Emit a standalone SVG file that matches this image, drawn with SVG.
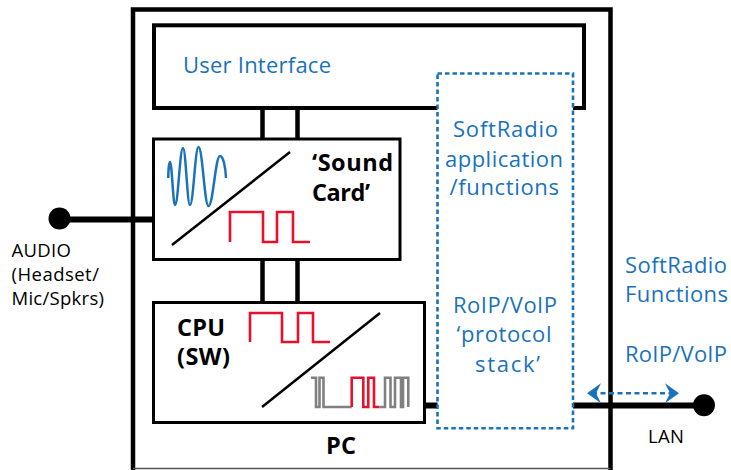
<svg xmlns="http://www.w3.org/2000/svg" width="731" height="470" viewBox="0 0 731 470">
<defs>
<style>
.thick{fill:none;stroke:#000;stroke-width:4.5;stroke-linecap:butt}
.box{fill:#fff;stroke:#000;stroke-width:3}
.dot{fill:#fff;stroke:#1a72bb;stroke-width:2.6;stroke-dasharray:4.5 3}
.blue{font-family:"Open Sans","Noto Sans","Liberation Sans",sans-serif;font-size:22px;fill:#1a72bb}
.blk{font-family:"Open Sans","Noto Sans","Liberation Sans",sans-serif;font-size:18.5px;fill:#000}
.bold{font-family:"Open Sans","Noto Sans","Liberation Sans",sans-serif;font-size:23.5px;font-weight:bold;fill:#000}
.diag{stroke:#000;stroke-width:2.5;fill:none}
.red{stroke:#e8112d;stroke-width:2.6;fill:none}
.gray{stroke:#808080;stroke-width:2.6;fill:none}
.sine{stroke:#1a72bb;stroke-width:2.5;fill:none}
.wire{stroke:#000;stroke-width:6;fill:none}
</style>
<marker id="ah" viewBox="0 -11 15 22" refX="9" refY="0" markerWidth="15" markerHeight="22" markerUnits="userSpaceOnUse" orient="auto-start-reverse">
<path d="M0,-10 L14,0 L0,10 L5,0 Z" fill="#1a72bb"/>
</marker>
</defs>
<rect width="731" height="470" fill="#fff"/>

<g id="pc">
<path class="thick" d="M133,470 V9.5 H610.5 V470"/>
<line x1="133" y1="468.5" x2="610.5" y2="468.5" stroke="#555" stroke-width="1.5"/>
<text class="bold" x="326" y="454" textLength="30">PC</text>
</g>

<g id="connectors">
<line class="thick" x1="262.5" y1="108" x2="262.5" y2="139"/>
<line class="thick" x1="297.5" y1="108" x2="297.5" y2="139"/>
<line class="thick" x1="262.5" y1="259" x2="262.5" y2="302.5"/>
<line class="thick" x1="297.5" y1="259" x2="297.5" y2="302.5"/>
<line class="wire" x1="59" y1="219.5" x2="153" y2="219.5"/>
<line class="wire" x1="424" y1="405.5" x2="704" y2="405.5"/>
<line x1="592" y1="393.3" x2="674" y2="393.3" stroke="#1a72bb" stroke-width="2.5" stroke-dasharray="5 3.5" marker-start="url(#ah)" marker-end="url(#ah)"/>
</g>

<g id="user-interface">
<rect x="154" y="25.3" width="430" height="82.7" fill="#fff" stroke="#000" stroke-width="4"/>
<text class="blue" x="183" y="73" textLength="148">User Interface</text>
</g>

<g id="sound-card">
<rect class="box" x="153.5" y="139" width="246.5" height="120.5"/>
<path class="sine" d="M168.3,178 C168.3,170 169.3,162 170,162 C172,162 173,205 175,205 C178.2,205 179.8,148 183,148 C185.8,148 187.2,205 190,205 C193.4,205 195.1,147 198.5,147 C202.5,147 204.5,206 208.5,206 C213.1,206 215.4,156 220,156 C223,156 225.5,166 226,178"/>
<line class="diag" x1="172" y1="245" x2="290" y2="152"/>
<path class="red" d="M230,242 V212 H263 V242 H277 V212 H293 V242 H310"/>
<text class="bold" x="312" y="170.5" textLength="81">‘Sound</text>
<text class="bold" x="312" y="200.5" textLength="58">Card’</text>
</g>

<g id="cpu">
<rect class="box" x="153.5" y="302.5" width="271" height="120"/>
<text class="bold" x="177" y="335.5" textLength="48">CPU</text>
<text class="bold" x="177" y="364.5" textLength="53">(SW)</text>
<path class="red" d="M250,342 V313 H282 V342 H298 V313 H313 V342 H330"/>
<line class="diag" x1="262" y1="407" x2="380" y2="313"/>
<path class="gray" d="M311,377.7 H316 V407 H319.5 V377.7 H323.5 V407 H351.7"/>
<path class="red" d="M351.7,407 V377.7 H363.3 V407 H368.3 V377.7 H374 V407 H379.3"/>
<path class="gray" d="M379.3,407 H385 V377.7 H390.5 V407 H395 V377.7 H401 V407 H403 V377.7 H408.3 V407"/>
</g>

<g id="softradio-app">
<rect class="dot" x="437.5" y="73.5" width="135.5" height="354.8"/>
<text class="blue" x="453" y="137" textLength="105">SoftRadio</text>
<text class="blue" x="445" y="166.5" textLength="118">application</text>
<text class="blue" x="449.5" y="194.5" textLength="109.5">/functions</text>
<text class="blue" x="453" y="313" textLength="104">RoIP/VoIP</text>
<text class="blue" x="456.5" y="341.5" textLength="95">‘protocol</text>
<text class="blue" x="475" y="371.5" textLength="65">stack’</text>
</g>

<g id="softradio-functions">
<text class="blue" x="625" y="273" textLength="102">SoftRadio</text>
<text class="blue" x="625" y="302" textLength="103">Functions</text>
<text class="blue" x="625" y="362" textLength="102">RoIP/VoIP</text>
</g>

<g id="audio-port">
<circle cx="59.5" cy="218.5" r="11" fill="#000"/>
<text class="blk" x="11.5" y="257" textLength="59.5">AUDIO</text>
<text class="blk" x="11.5" y="281" textLength="87.5">(Headset/</text>
<text class="blk" x="11.5" y="305" textLength="92.5">Mic/Spkrs)</text>
</g>

<g id="lan-port">
<circle cx="704" cy="405.3" r="11" fill="#000"/>
<text class="blk" x="648" y="442.5" textLength="36">LAN</text>
</g>
</svg>
